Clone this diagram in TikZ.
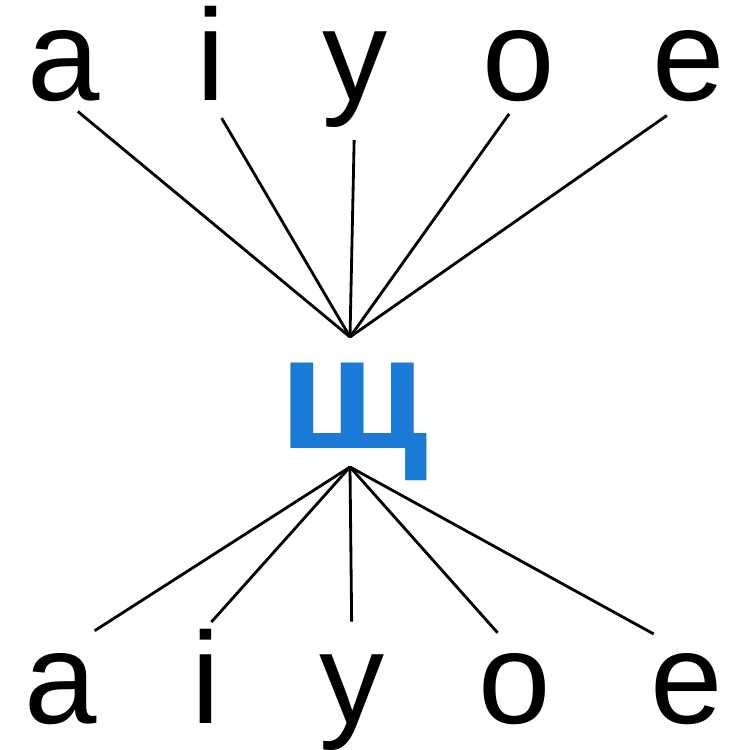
\documentclass[tikz,border=0pt]{standalone}
\usepackage{fontspec}
\setmainfont{Liberation Sans}
\definecolor{shchblue}{RGB}{26,122,214}

\begin{document}
\begin{tikzpicture}[x=0.01cm,y=-0.01cm,
    letter/.style={anchor=base,inner sep=0pt,font=\fontsize{37}{40}\selectfont},
    spoke/.style={line width=0.8pt}]
  \useasboundingbox (0,0) rectangle (750,750);
  % top row
  \node[letter] (ta) at (64,100)  {а};
  \node[letter] (ti) at (211,100) {і};
  \node[letter] (ty) at (355,100) {у};
  \node[letter] (to) at (519,100) {о};
  \node[letter] (te) at (689,100) {е};
  % middle letter
  \node[anchor=base,inner sep=0pt,text=shchblue,
        font=\fontsize{46}{50}\selectfont\bfseries,xscale=1.1] (shch) at (354,448) {щ};
  \coordinate (apexT) at (350,337);
  \coordinate (apexB) at (350,467);
  % bottom row
  \node[letter] (ba) at (61,723)  {а};
  \node[letter] (bi) at (206,723) {і};
  \node[letter] (by) at (352,723) {у};
  \node[letter] (bo) at (515,723) {о};
  \node[letter] (be) at (687,723) {е};
  % spokes
  \draw[spoke,shorten >=0.18cm] (apexT) -- (ta.base);
  \draw[spoke,shorten >=0.21cm] (apexT) -- (ti.base);
  \draw[spoke,shorten >=0.40cm] (apexT) -- (ty.base);
  \draw[spoke,shorten >=0.17cm] (apexT) -- (to.base);
  \draw[spoke,shorten >=0.27cm] (apexT) -- (te.base);
  \draw[spoke,shorten >=0.40cm] (apexB) -- (ba.north);
  \draw[spoke,shorten >=0.08cm] (apexB) -- (bi.north);
  \draw[spoke,shorten >=0.32cm] (apexB) -- (by.north);
  \draw[spoke,shorten >=0.26cm] (apexB) -- (bo.north);
  \draw[spoke,shorten >=0.38cm] (apexB) -- (be.north);
\end{tikzpicture}
\end{document}
